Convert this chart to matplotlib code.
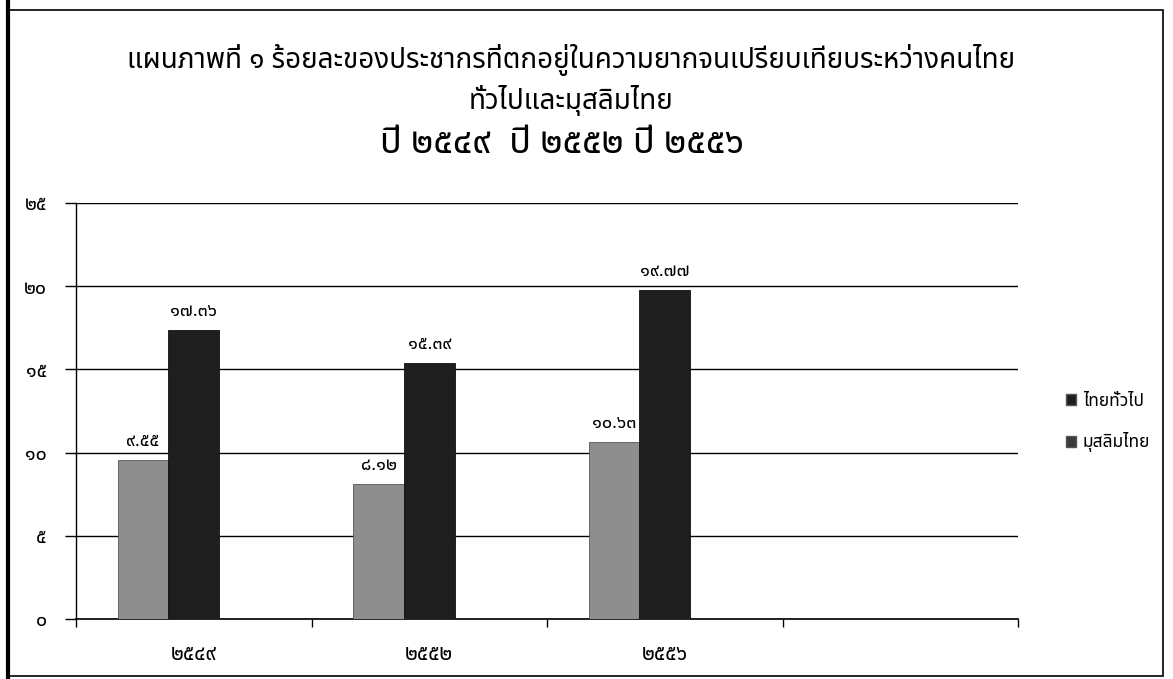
import matplotlib
matplotlib.use('Agg')
import matplotlib.pyplot as plt
import numpy as np
from matplotlib import font_manager, ft2font
from matplotlib.patches import Rectangle
from matplotlib.lines import Line2D

years = ['๒๕๔๙', '๒๕๕๒', '๒๕๕๖']
thai_general = [9.55, 8.12, 10.63]
thai_muslim = [17.36, 15.39, 19.77]
series_names = ['ไทยทั่วไป', 'มุสลิมไทย']
y_ticks = [0, 5, 10, 15, 20, 25]
y_tick_labels = ['๐', '๕', '๑๐', '๑๕', '๒๐', '๒๕']
thai_digits = '๐๑๒๓๔๕๖๗๘๙'

title = ('แผนภาพที่ ๑ ร้อยละของประชากรที่ตกอยู่ในความยากจนเปรียบเทียบระหว่างคนไทย\n'
         'ทั่วไปและมุสลิมไทย')
subtitle = 'ปี ๒๕๔๙  ปี ๒๕๕๒ ปี ๒๕๕๖'


def to_thai(s):
    return ''.join(thai_digits[int(c)] if c.isdigit() else c for c in s)


def find_thai_fonts():
    found = []
    for f in font_manager.fontManager.ttflist:
        try:
            cmap = ft2font.FT2Font(f.fname).get_charmap()
        except Exception:
            continue
        if 0x0E01 in cmap and 0x0E51 in cmap and f.name not in found:
            found.append(f.name)
    return found


thai = find_thai_fonts()
preferred = ['Noto Sans Thai', 'Loma', 'Garuda', 'Tlwg Typo', 'Sarabun', 'Norasi']
thai.sort(key=lambda n: preferred.index(n) if n in preferred else len(preferred))
plt.rcParams['font.family'] = thai + ['DejaVu Sans']

fig = plt.figure(figsize=(11.73, 6.79), dpi=100)
ax = fig.add_axes([76 / 1173, 1 - 619 / 679, (1018 - 76) / 1173, (619 - 203) / 679])

# the excel chart had room for 3 series per year (3rd one empty)
x = np.arange(len(years))
w = 0.215
b1 = ax.bar(x - w, thai_general, w, color='#8e8e8e', edgecolor='#555555', lw=0.6,
            label=series_names[0], zorder=3)
b2 = ax.bar(x, thai_muslim, w, color='#1e1e1e', edgecolor='#111111', lw=0.6,
            label=series_names[1], zorder=3)

for bars, vals in [(b1, thai_general), (b2, thai_muslim)]:
    for r, v in zip(bars, vals):
        ax.annotate(to_thai(f'{v:.2f}'), (r.get_x() + r.get_width() / 2, v),
                    xytext=(0, 7), textcoords='offset points',
                    ha='center', va='bottom', fontsize=13)

ax.set_xlim(-0.5, 3.5)
ax.set_ylim(0, 25)
ax.set_yticks(y_ticks)
ax.set_yticklabels(y_tick_labels, fontsize=14)
ax.tick_params(axis='y', length=8, width=1, pad=13, color='black')

ax.set_xticks(x)
ax.set_xticklabels(years, fontsize=15)
ax.set_xticks(np.arange(-0.5, 4, 1), minor=True)
ax.tick_params(axis='x', which='major', length=0, pad=18)
ax.tick_params(axis='x', which='minor', length=6, width=1, color='black')

ax.yaxis.grid(True, color='black', lw=1)
ax.set_axisbelow(True)
for s in ['top', 'right']:
    ax.spines[s].set_visible(False)
ax.spines['left'].set_linewidth(1)
ax.spines['bottom'].set_linewidth(1.2)

fig.text(571 / 1173, 1 - 80 / 679, title, ha='center', va='center', fontsize=20,
         linespacing=1.35)
fig.text(562 / 1173, 1 - 144 / 679, subtitle, ha='center', va='center', fontsize=26,
         fontweight='bold')

handles = [Rectangle((0, 0), 1, 1, facecolor='#1e1e1e', edgecolor='#555555'),
           Rectangle((0, 0), 1, 1, facecolor='#3a3a3a', edgecolor='#555555')]
fig.legend(handles, series_names, loc='center left',
           bbox_to_anchor=(1050 / 1173, 1 - 422 / 679), frameon=False,
           fontsize=12.5, handlelength=0.6, handleheight=0.6, handletextpad=0.4,
           labelspacing=1.3)

# frame of the scanned page
fig.add_artist(Rectangle((7 / 1173, 1 - 676 / 679), 1156 / 1173, 666 / 679,
                         transform=fig.transFigure, fill=False, lw=1.2, color='black'))
fig.add_artist(Line2D([8 / 1173, 8 / 1173], [0, 1], transform=fig.transFigure,
                      lw=3, color='black'))

fig.savefig('out.png', dpi=100)
